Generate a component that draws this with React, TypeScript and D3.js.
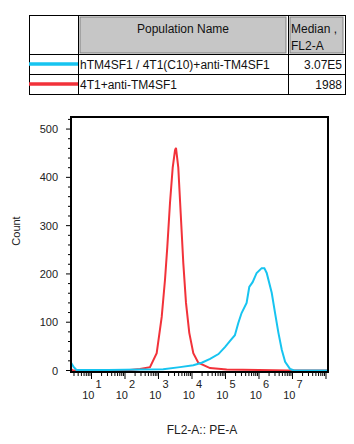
import * as d3 from "d3";

// FL2-A (log10 exponent) and counts
const redLog = [0.39, 0.45, 2.0, 2.448, 2.746, 2.946, 3.096, 3.194, 3.263, 3.343, 3.424, 3.493, 3.522, 3.591, 3.663, 3.74, 3.821, 3.919, 4.039, 4.188, 4.537, 5.036, 6.0, 6.9, 8.06];
const redCount = [3, 0, 0, 3, 7, 36, 111, 188, 256, 347, 420, 456, 461, 420, 325, 223, 140, 78, 36, 16, 5, 2, 1, 0, 0];

const blueLog = [0.39, 0.46, 0.55, 1.5, 2.5, 3.14, 3.64, 4.04, 4.29, 4.54, 4.79, 4.99, 5.13, 5.28, 5.38, 5.48, 5.63, 5.71, 5.81, 5.93, 6.08, 6.16, 6.23, 6.38, 6.48, 6.58, 6.68, 6.78, 6.93, 7.05, 8.06];
const blueCount = [16, 8, 1, 1, 2, 2.5, 7, 11, 16, 24, 34, 49, 61, 73, 98, 119, 140, 173, 183, 202, 212, 212, 202, 161, 119, 78, 43, 18, 3, 0, 0];

const populations = ["hTM4SF1 / 4T1(C10)+anti-TM4SF1", "4T1+anti-TM4SF1"];
const medians = ["3.07E5", "1988"];
const colors = ["#17c4f0", "#f2323a"];

const yTicks = [0, 100, 200, 300, 400, 500];
const decades = [1, 2, 3, 4, 5, 6, 7];

const FONT = "'Liberation Sans', Arial, sans-serif";

export default function App() {
  const plot = { left: 71, right: 328, top: 117, bottom: 372 };

  const x = d3.scaleLog().domain([10 ** 0.388, 10 ** 8.06]).range([plot.left, plot.right]);
  const y = d3.scaleLinear().domain([0, 525]).range([370.5, plot.top]);

  const line = d3
    .line<[number, number]>()
    .x((d) => x(10 ** d[0]))
    .y((d) => y(d[1]));

  const redPath = line(redLog.map((v, i) => [v, redCount[i]]) as [number, number][]) || "";
  const bluePath = line(blueLog.map((v, i) => [v, blueCount[i]]) as [number, number][]) || "";

  // minor ticks on the log axis
  const [d0, d1] = x.domain();
  const xMinor: number[] = [];
  const xMajor: number[] = [];
  for (let e = 0; e <= 8; e++) {
    for (let m = 1; m <= 9; m++) {
      const v = m * 10 ** e;
      if (v < d0 || v > d1) continue;
      if (m === 1) xMajor.push(v);
      else xMinor.push(v);
    }
  }
  const yMinor = d3.range(0, 525, 20).filter((v) => v % 100 !== 0);

  // table layout
  const t = { left: 29, right: 345, c1: 78, c2: 288, top: 15, head: 54, r1: 74, bottom: 94 };
  const rowMid = [64, 84];
  const rowBase = [68.5, 88.5];

  return (
    <svg
      width={354}
      height={444}
      style={{ position: "absolute", left: 0, top: 0, background: "#fff" }}
      fontFamily={FONT}
    >
      <rect width={354} height={444} fill="#fff" />

      {/* Table */}
      <rect x={80} y={17} width={206} height={36} fill="#c6c6c6" stroke="#808080" />
      <rect x={290} y={17} width={53} height={36} fill="#c6c6c6" stroke="#808080" />
      <rect x={t.left + 0.5} y={t.top + 0.5} width={t.right - t.left} height={t.bottom - t.top} fill="none" stroke="#000" />
      <line x1={t.c1 + 0.5} x2={t.c1 + 0.5} y1={t.top} y2={t.bottom} stroke="#000" />
      <line x1={t.c2 + 0.5} x2={t.c2 + 0.5} y1={t.top} y2={t.bottom} stroke="#000" />
      <line x1={t.left} x2={t.right} y1={t.head + 0.5} y2={t.head + 0.5} stroke="#000" />
      <line x1={t.left} x2={t.right} y1={t.r1 + 0.5} y2={t.r1 + 0.5} stroke="#000" />

      <text x={183} y={33} fontSize={12} textAnchor="middle" fill="#111">Population Name</text>
      <text x={291} y={33} fontSize={12} fill="#111">Median ,</text>
      <text x={291} y={49.5} fontSize={12} fill="#111">FL2-A</text>

      {populations.map((p, i) => (
        <g key={p}>
          <line x1={t.left} x2={t.c1} y1={rowMid[i]} y2={rowMid[i]} stroke={colors[i]} strokeWidth={3.5} />
          <text x={80} y={rowBase[i]} fontSize={12} fill="#111">{p}</text>
          <text x={342} y={rowBase[i]} fontSize={12} textAnchor="end" fill="#111">{medians[i]}</text>
        </g>
      ))}

      {/* Histograms */}
      <path d={redPath} fill="none" stroke={colors[1]} strokeWidth={2} />
      <path d={bluePath} fill="none" stroke={colors[0]} strokeWidth={2} />

      {/* Frame */}
      <rect x={plot.left} y={plot.top} width={plot.right - plot.left} height={plot.bottom - plot.top} fill="none" stroke="#000" strokeWidth={2} />

      {/* Y axis */}
      {yTicks.map((v) => (
        <g key={v}>
          <line x1={plot.left - 5} x2={plot.left} y1={y(v)} y2={y(v)} stroke="#000" />
          <text x={58} y={y(v) + 4} fontSize={11} textAnchor="end" fill="#222">{v}</text>
        </g>
      ))}
      {yMinor.map((v) => (
        <line key={v} x1={plot.left - 3} x2={plot.left} y1={y(v)} y2={y(v)} stroke="#000" />
      ))}
      <text transform={`translate(20,231) rotate(-90)`} fontSize={11} textAnchor="middle" fill="#222">Count</text>

      {/* X axis */}
      {xMajor.map((v) => (
        <line key={`M${v}`} x1={x(v)} x2={x(v)} y1={plot.bottom} y2={plot.bottom + 7} stroke="#000" />
      ))}
      {xMinor.map((v) => (
        <line key={`m${v}`} x1={x(v)} x2={x(v)} y1={plot.bottom} y2={plot.bottom + 4} stroke="#000" />
      ))}
      {decades.map((e) => (
        <g key={e}>
          <text x={x(10 ** e) + 3} y={399} fontSize={11} textAnchor="end" fill="#222">10</text>
          <text x={x(10 ** e) + 4} y={388} fontSize={11} fill="#222">{e}</text>
        </g>
      ))}
      <text x={202} y={434} fontSize={12} textAnchor="middle" fill="#222">FL2-A:: PE-A</text>
    </svg>
  );
}
